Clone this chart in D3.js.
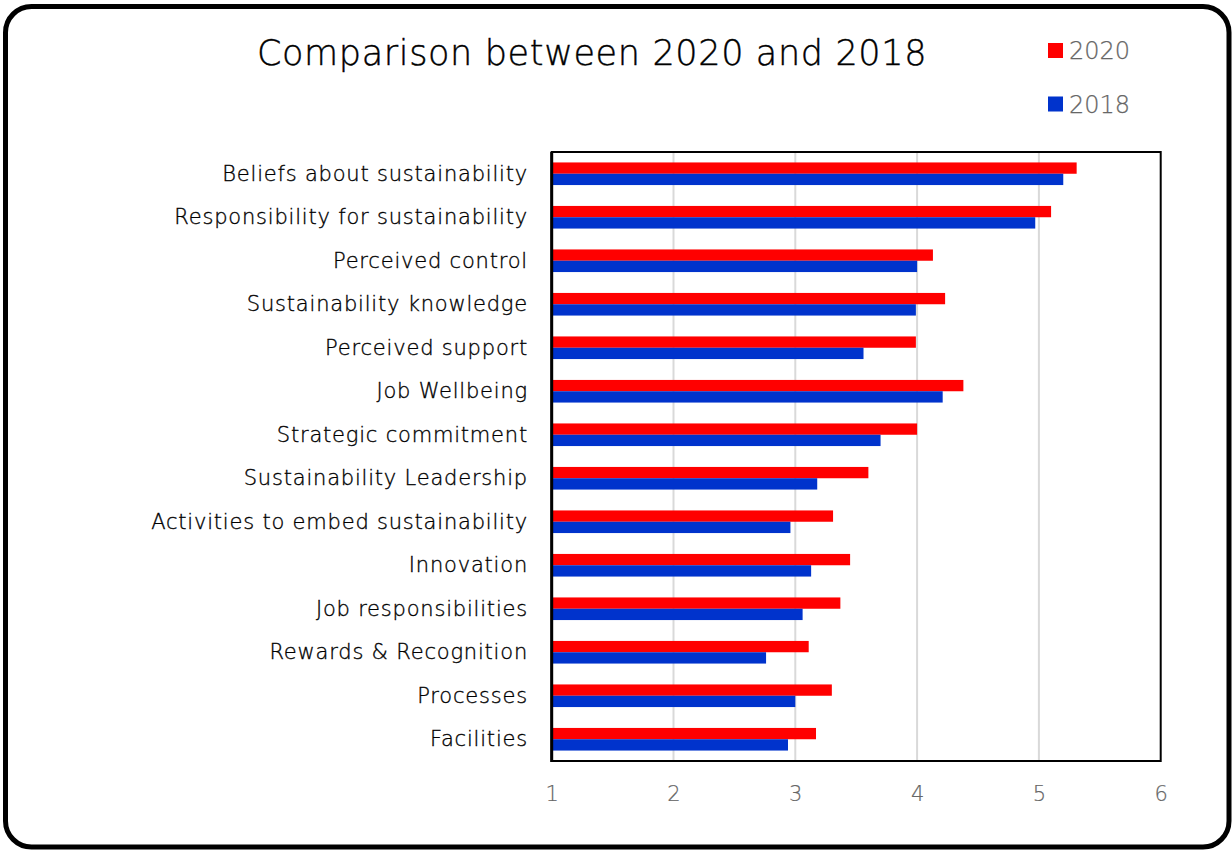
<!DOCTYPE html>
<html>
<head>
<meta charset="utf-8">
<script src="https://cdn.jsdelivr.net/npm/d3@7"></script>
<style>
  html, body { margin: 0; padding: 0; background: #fff; }
  svg { display: block; }
  text { font-family: "DejaVu Sans", sans-serif; }
</style>
</head>
<body>
<svg id="chart" width="1232" height="850"></svg>
<script>
// Survey scores per theme, 2020 against 2018
const categories = [
  "Beliefs about sustainability",
  "Responsibility for sustainability",
  "Perceived control",
  "Sustainability knowledge",
  "Perceived support",
  "Job Wellbeing",
  "Strategic commitment",
  "Sustainability Leadership",
  "Activities to embed sustainability",
  "Innovation",
  "Job responsibilities",
  "Rewards & Recognition",
  "Processes",
  "Facilities"
];
const values2020 = [5.31, 5.10, 4.13, 4.23, 3.99, 4.38, 4.00, 3.60, 3.31, 3.45, 3.37, 3.11, 3.30, 3.17];
const values2018 = [5.20, 4.97, 4.00, 3.99, 3.56, 4.21, 3.70, 3.18, 2.96, 3.13, 3.06, 2.76, 3.00, 2.94];
const seriesNames = ["2020", "2018"];
const seriesColors = ["#ff0000", "#0033cc"];
const xTicks = [1, 2, 3, 4, 5, 6];
const titleText = "Comparison between 2020 and 2018";

const svg = d3.select("#chart");

// rounded outer frame
svg.append("rect")
  .attr("x", 5.5).attr("y", 6.5)
  .attr("width", 1223.5).attr("height", 840.5)
  .attr("rx", 26).attr("ry", 26)
  .attr("fill", "#fff")
  .attr("stroke", "#000")
  .attr("stroke-width", 5);

const plot = { left: 551.7, right: 1160.7, top: 152, bottom: 761 };

const x = d3.scaleLinear().domain([1, 6]).range([plot.left, plot.right]);
const y = d3.scaleBand().domain(categories)
  .range([plot.top, plot.bottom])
  .paddingInner(0.48).paddingOuter(0.24);
const ySub = d3.scaleBand().domain(seriesNames).range([0, y.bandwidth()]);

// vertical gridlines
svg.append("g").selectAll("line")
  .data(xTicks.slice(1, -1))
  .join("line")
  .attr("x1", d => x(d)).attr("x2", d => x(d))
  .attr("y1", plot.top).attr("y2", plot.bottom)
  .attr("stroke", "#d9d9d9")
  .attr("stroke-width", 2);

// bars
const groups = svg.append("g").selectAll("g")
  .data(categories.map((c, i) => ({ c, v: [values2020[i], values2018[i]] })))
  .join("g")
  .attr("transform", d => `translate(0,${y(d.c)})`);

groups.selectAll("rect")
  .data(d => d.v.map((v, j) => ({ v, s: seriesNames[j], col: seriesColors[j] })))
  .join("rect")
  .attr("x", x(1))
  .attr("y", d => ySub(d.s))
  .attr("width", d => x(d.v) - x(1))
  .attr("height", ySub.bandwidth())
  .attr("fill", d => d.col);

// plot frame
svg.append("rect")
  .attr("x", plot.left).attr("y", plot.top)
  .attr("width", plot.right - plot.left)
  .attr("height", plot.bottom - plot.top)
  .attr("fill", "none")
  .attr("stroke", "#000")
  .attr("stroke-width", 2);
svg.append("line")
  .attr("x1", plot.left).attr("x2", plot.left)
  .attr("y1", plot.top).attr("y2", plot.bottom + 1)
  .attr("stroke", "#000").attr("stroke-width", 3);

// x axis tick labels
const xAxis = d3.axisBottom(x).tickValues(xTicks).tickSize(0).tickPadding(0).tickFormat(d3.format("d"));
const gx = svg.append("g").attr("transform", `translate(0,${plot.bottom})`).call(xAxis);
gx.select(".domain").remove();
gx.selectAll("text")
  .attr("y", 40)
  .attr("dy", null)
  .attr("fill", "#666666")
  .attr("stroke", "#666666")
  .attr("stroke-width", 0.2)
  .style("font-size", "21px")
  .style("font-weight", "200")
  .style("font-family", "DejaVu Sans, sans-serif");

// category labels
const yAxis = d3.axisLeft(y).tickSize(0).tickPadding(0);
const gy = svg.append("g").attr("transform", `translate(528,0)`).call(yAxis);
gy.select(".domain").remove();
gy.selectAll("text")
  .attr("x", 0)
  .attr("dy", "0.33em")
  .attr("fill", "#000")
  .attr("stroke", "#000")
  .attr("stroke-width", 0.35)
  .style("font-size", "21px")
  .style("font-weight", "200")
  .style("letter-spacing", "0.8px")
  .style("font-family", "DejaVu Sans, sans-serif");

// title
svg.append("text")
  .attr("x", 592).attr("y", 65)
  .attr("text-anchor", "middle")
  .attr("fill", "#000")
  .attr("stroke", "#000")
  .attr("stroke-width", 0.4)
  .style("font-size", "35px")
  .style("font-weight", "200")
  .style("letter-spacing", "0.65px")
  .text(titleText);

// legend
const legend = svg.append("g").selectAll("g")
  .data(seriesNames)
  .join("g")
  .attr("transform", (d, i) => `translate(1048,${43 + i * 53.5})`);
legend.append("rect")
  .attr("width", 15).attr("height", 15)
  .attr("fill", (d, i) => seriesColors[i]);
legend.append("text")
  .attr("x", 21).attr("y", 7.5)
  .attr("dy", "0.36em")
  .attr("fill", "#666666")
  .attr("stroke", "#666666")
  .attr("stroke-width", 0.25)
  .style("font-size", "24px")
  .style("font-weight", "200")
  .text(d => d);
</script>
</body>
</html>
